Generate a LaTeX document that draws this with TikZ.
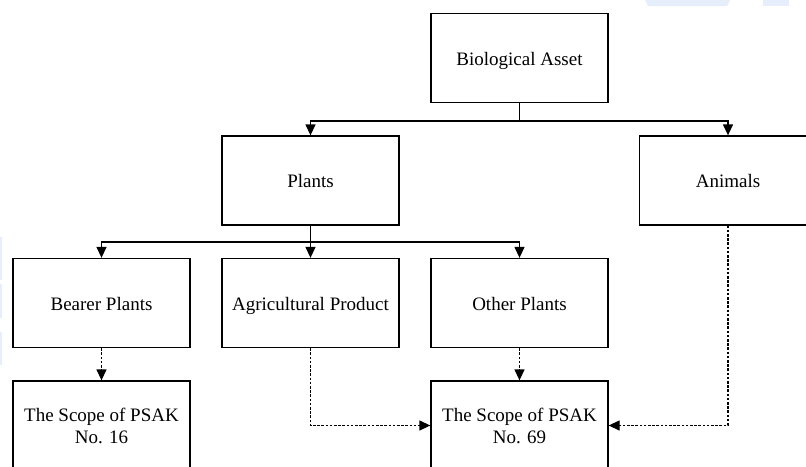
\documentclass[tikz,border=0pt]{standalone}
\usepackage{fontspec}
\setmainfont{Liberation Serif}
\usetikzlibrary{arrows.meta}
\definecolor{wm}{HTML}{E6EEFC}
\tikzset{
  box/.style={draw, line width=1.3pt, minimum width=177pt, minimum height=89pt,
    inner sep=2pt, align=center, font=\fontsize{19}{22}\selectfont},
  oneline/.style={box, text height=15pt, text depth=1pt},
  solidarrow/.style={line width=1.3pt, -{Triangle[length=11pt,width=10pt]}},
  plainline/.style={line width=1.3pt},
  dasharrow/.style={line width=1.3pt, dash pattern=on 2.6pt off 1.6pt, -{Triangle[length=11pt,width=10pt]}},
}
\begin{document}
\begin{tikzpicture}[x=1pt,y=-1pt]
\useasboundingbox (0,0) rectangle (806,466);
\clip (0,0) rectangle (806,466);
\fill[white] (0,0) rectangle (806,466);
% faint background marks
\fill[wm] (645,0) -- (730,0) -- (727,6) -- (648,6) -- cycle;
\fill[wm] (763,0) rectangle (789,6);
\fill[wm] (0,237) rectangle (1.5,280);
\fill[wm] (0,284) rectangle (1.5,318);
\fill[wm] (0,332) rectangle (1.5,365);
% nodes
\node[oneline] (bio) at (519.5,58) {Biological Asset};
\node[oneline] (plants) at (310.5,180.5) {Plants};
\node[oneline] (animals) at (728,180.5) {Animals};
\node[oneline] (bearer) at (101.5,303) {Bearer Plants};
\node[oneline] (agri) at (310.5,303) {Agricultural Product};
\node[oneline] (other) at (519.5,303) {Other Plants};
\node[box] (s16) at (101.5,425.5) {The Scope of PSAK\\No. 16};
\node[box] (s69) at (519.5,425.5) {The Scope of PSAK\\No. 69};
% junctions
\coordinate (j1) at (519.5,121);
\coordinate (j2) at (310.5,242);
% solid connectors
\draw[plainline] (bio.south) -- (j1);
\draw[solidarrow] (j1) -| (plants.north);
\draw[solidarrow] (j1) -| (animals.north);
\draw[plainline] (plants.south) -- (j2);
\draw[solidarrow] (j2) -| (bearer.north);
\draw[solidarrow] (j2) -- (agri.north);
\draw[solidarrow] (j2) -| (other.north);
% dashed connectors
\draw[dasharrow] (bearer.south) -- (s16.north);
\draw[dasharrow] (other.south) -- (s69.north);
\draw[dasharrow] (agri.south) |- (s69.west);
\draw[dasharrow] (animals.south) |- (s69.east);
\end{tikzpicture}
\end{document}
